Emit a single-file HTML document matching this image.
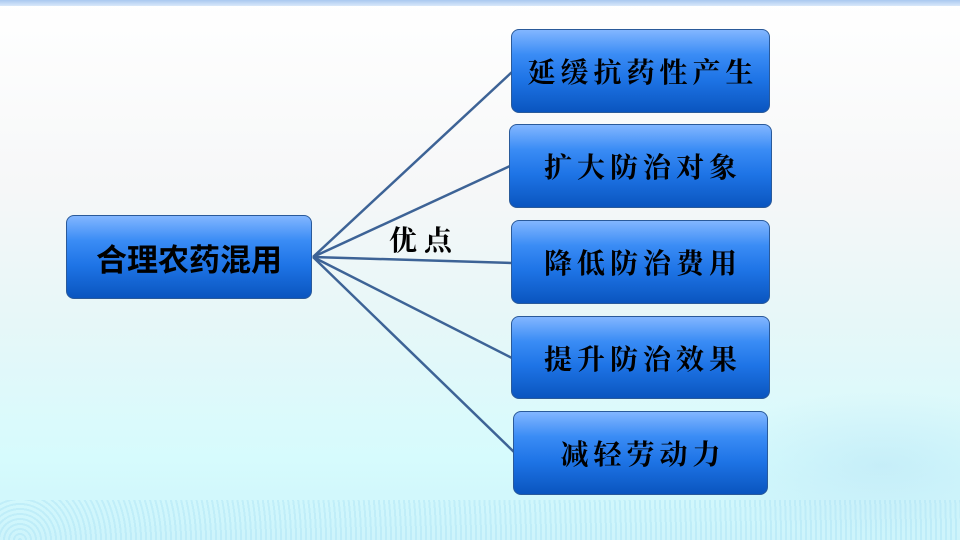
<!DOCTYPE html>
<html><head><meta charset="utf-8"><style>
*{margin:0;padding:0;box-sizing:border-box}
body{width:960px;height:540px;overflow:hidden;position:relative;
background:linear-gradient(180deg,#ffffff 0%,#f6f7f8 35%,#e6f7f8 60%,#d6fbfd 85%,#cdf4fb 100%);
font-family:"Liberation Sans","Noto Sans CJK SC",sans-serif}
.top{position:absolute;left:0;top:0;width:960px;height:6px;background:linear-gradient(180deg,#a9c8f0,#d9e8fa)}
.wave{position:absolute;left:0;top:500px;width:960px;height:40px;background:repeating-radial-gradient(circle at 20px 40px,rgba(150,215,240,.35) 0 2px,rgba(255,255,255,0) 2px 5px);opacity:.8}
.dragon{position:absolute;left:700px;top:390px;width:260px;height:150px;background:radial-gradient(ellipse at 70% 50%,rgba(170,215,240,.35),rgba(255,255,255,0) 70%)}
.box{position:absolute;border-radius:8px;border:1px solid #2a5a9a;
background:linear-gradient(180deg,#82b6ff 0%,#3a8cf5 30%,#1e74e6 60%,#0a55bf 100%);
display:flex;align-items:center;justify-content:center;color:#000;font-weight:bold}
.r{font-family:"Liberation Serif","Noto Serif CJK SC",serif;font-size:28px;letter-spacing:5px;padding-left:5px}
svg{position:absolute;left:0;top:0}
.lbl{position:absolute;left:389px;top:219px;font-family:"Liberation Serif","Noto Serif CJK SC",serif;font-weight:bold;font-size:28px;letter-spacing:7px}
</style></head><body>
<div class="top"></div><div class="wave"></div><div class="dragon"></div>
<svg width="960" height="540"><g stroke="#3d6396" stroke-width="2.5" fill="none">
<line x1="313" y1="257" x2="512" y2="72"/>
<line x1="313" y1="257" x2="510" y2="166"/>
<line x1="313" y1="257" x2="512" y2="263"/>
<line x1="313" y1="257" x2="512" y2="358"/>
<line x1="313" y1="257" x2="514" y2="452"/>
</g></svg>
<div class="box" style="left:66px;top:215px;width:246px;height:84px;font-size:31px;font-family:'Liberation Sans','Noto Sans CJK SC',sans-serif">合理农药混用</div>
<div class="lbl">优点</div>
<div class="box r" style="left:511px;top:29px;width:259px;height:84px">延缓抗药性产生</div>
<div class="box r" style="left:509px;top:124px;width:263px;height:84px">扩大防治对象</div>
<div class="box r" style="left:511px;top:220px;width:259px;height:84px">降低防治费用</div>
<div class="box r" style="left:511px;top:316px;width:259px;height:83px">提升防治效果</div>
<div class="box r" style="left:513px;top:411px;width:255px;height:84px">减轻劳动力</div>
</body></html>
